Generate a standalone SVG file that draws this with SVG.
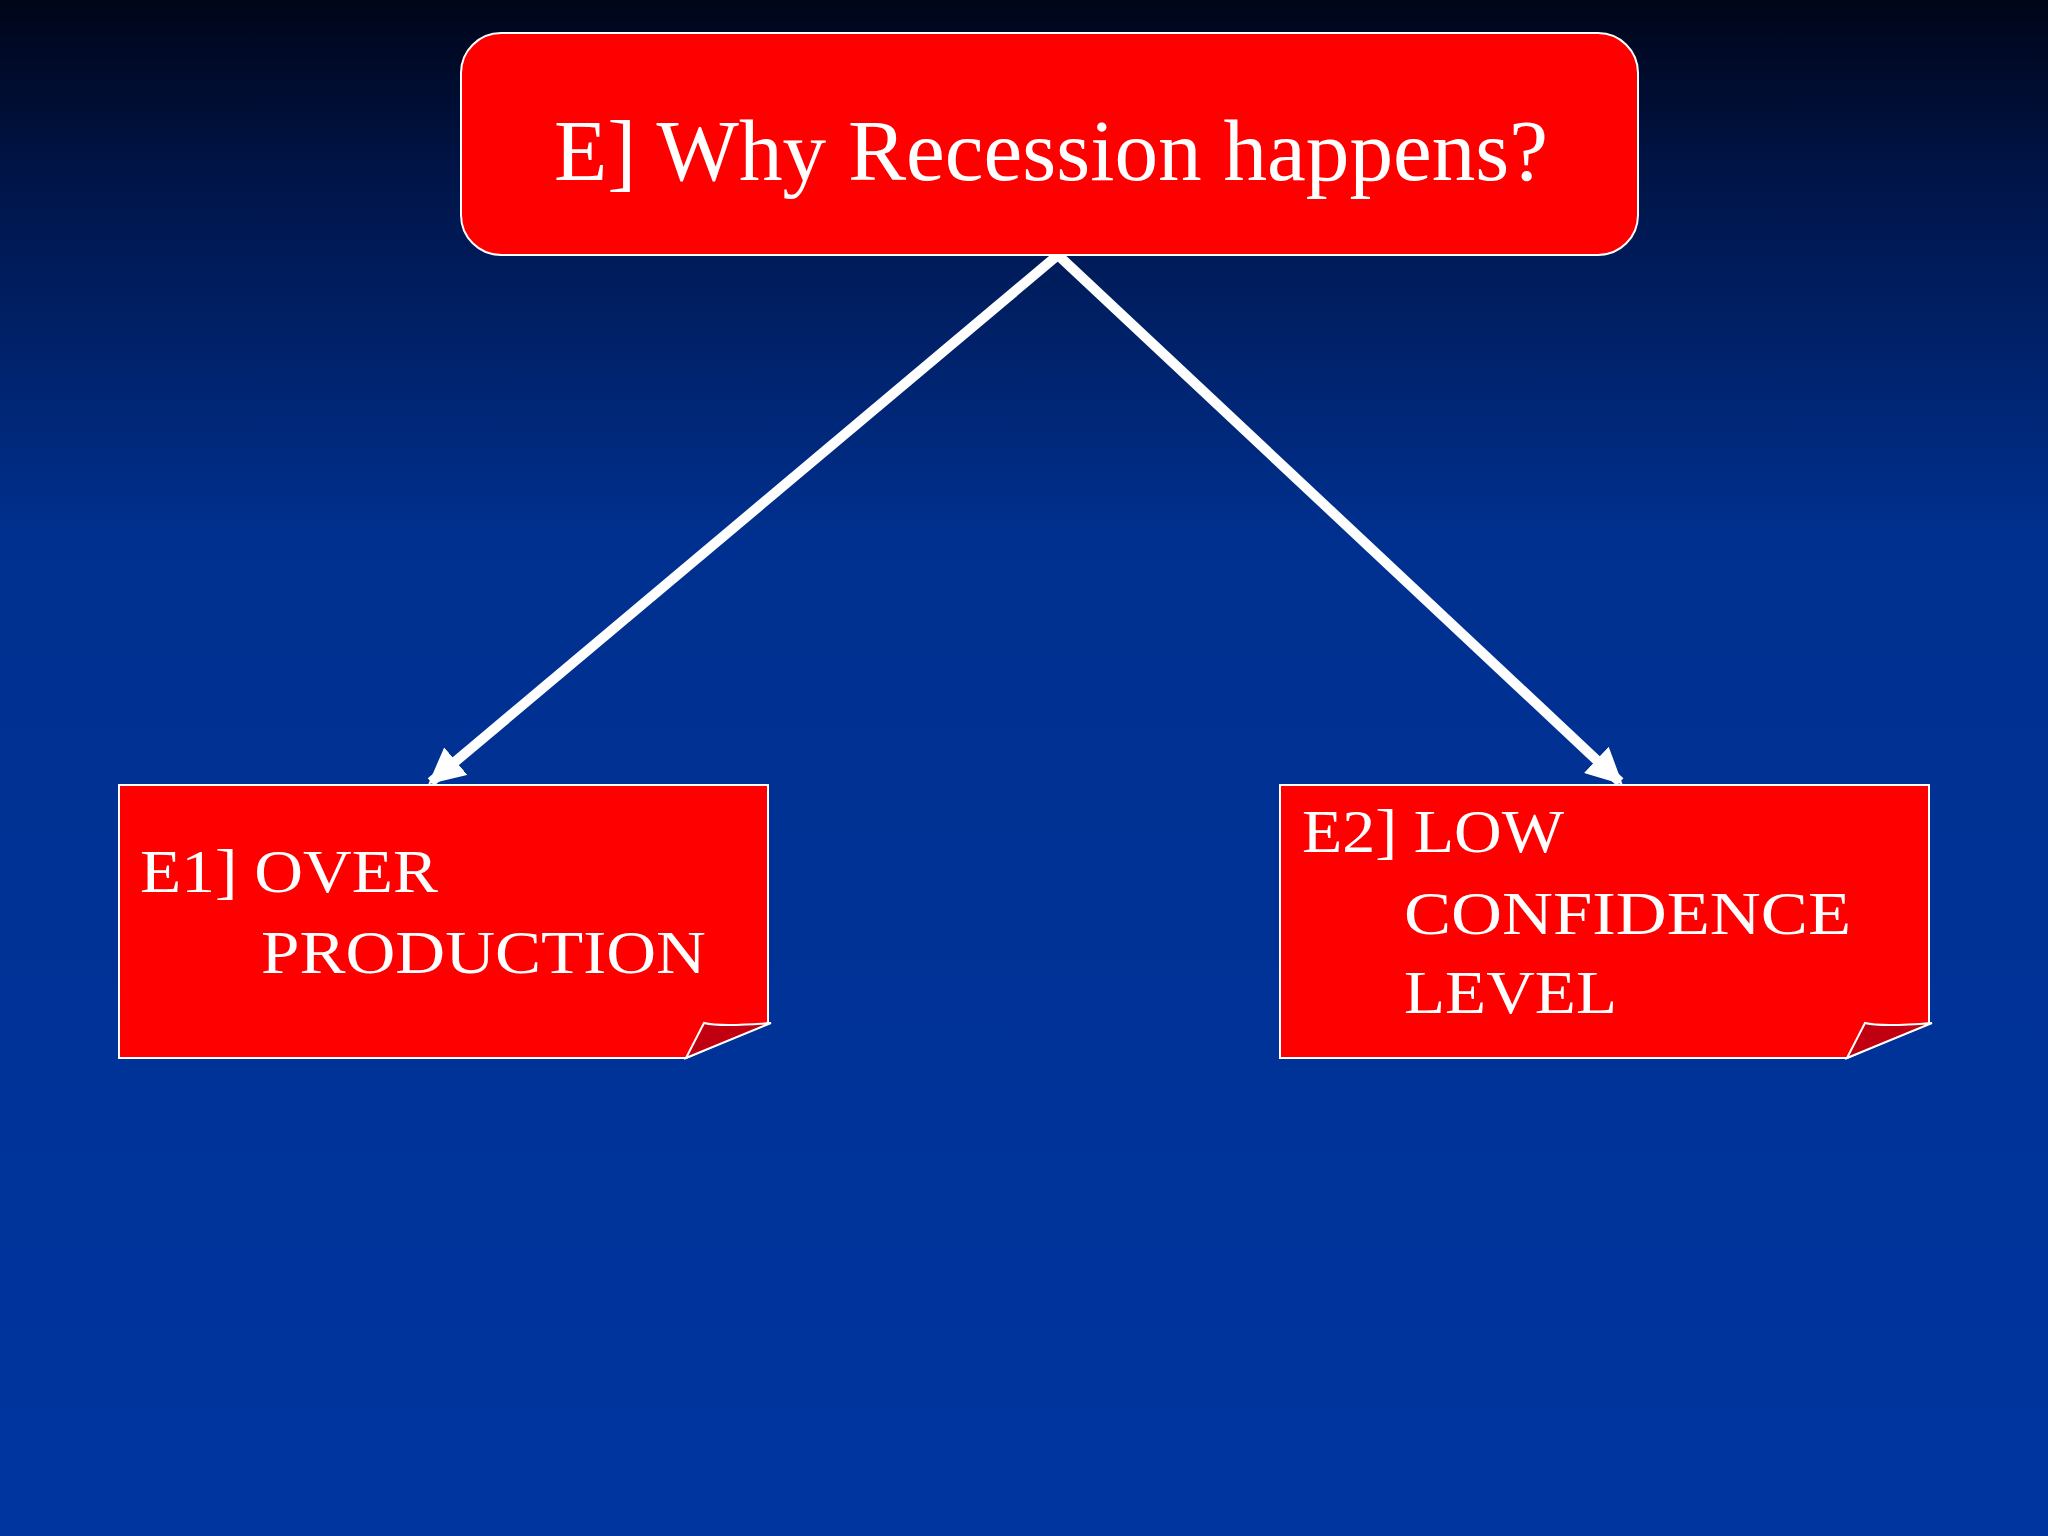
<svg xmlns="http://www.w3.org/2000/svg" width="2048" height="1536" viewBox="0 0 2048 1536">
<style>
.box{fill:#ff0000;stroke:#ffffff;stroke-width:2}
.t{font-family:"Liberation Serif",serif;fill:#ffffff}
.c{stroke:#ffffff;stroke-width:10;fill:none}
</style>
<defs>
<linearGradient id="bg" x1="0" y1="0" x2="0" y2="1">
<stop offset="0" stop-color="#000518"/>
<stop offset="0.12" stop-color="#00154a"/>
<stop offset="0.35" stop-color="#00308f"/>
<stop offset="1" stop-color="#0035a0"/>
</linearGradient>
<marker id="ah" viewBox="0 0 10 10" refX="9" refY="5" markerWidth="3.6" markerHeight="3.6" orient="auto" markerUnits="strokeWidth">
<path d="M0,0 L10,5 L0,10 z" fill="#ffffff"/>
</marker>
</defs>
<rect width="2048" height="1536" fill="url(#bg)"/>
<g id="connectors">
<line class="c" x1="1058" y1="255" x2="431" y2="782" marker-end="url(#ah)"/>
<line class="c" x1="1058" y1="255" x2="1620" y2="782" marker-end="url(#ah)"/>
</g>
<g id="root">
<rect class="box" x="461" y="33" width="1177" height="222" rx="40"/>
<text class="t" x="554" y="180" font-size="86" textLength="994" lengthAdjust="spacingAndGlyphs">E] Why Recession happens?</text>
</g>
<g id="e1">
<path class="box" d="M119,785 H768 V1023 L686,1058 H119 Z"/>
<path d="M686,1058 L704,1023 Q720,1027 771,1023 Z" fill="#c00010" stroke="#ffffff" stroke-width="2"/>
<text class="t" x="140" y="892" font-size="62" textLength="298" lengthAdjust="spacingAndGlyphs">E1] OVER</text>
<text class="t" x="261" y="973" font-size="62" textLength="445" lengthAdjust="spacingAndGlyphs">PRODUCTION</text>
</g>
<g id="e2">
<path class="box" d="M1280,785 H1929 V1023 L1847,1058 H1280 Z"/>
<path d="M1847,1058 L1865,1023 Q1881,1027 1932,1023 Z" fill="#c00010" stroke="#ffffff" stroke-width="2"/>
<text class="t" x="1302" y="852" font-size="62" textLength="262" lengthAdjust="spacingAndGlyphs">E2] LOW</text>
<text class="t" x="1404" y="934" font-size="62" textLength="447" lengthAdjust="spacingAndGlyphs">CONFIDENCE</text>
<text class="t" x="1404" y="1013" font-size="62" textLength="213" lengthAdjust="spacingAndGlyphs">LEVEL</text>
</g>
</svg>
